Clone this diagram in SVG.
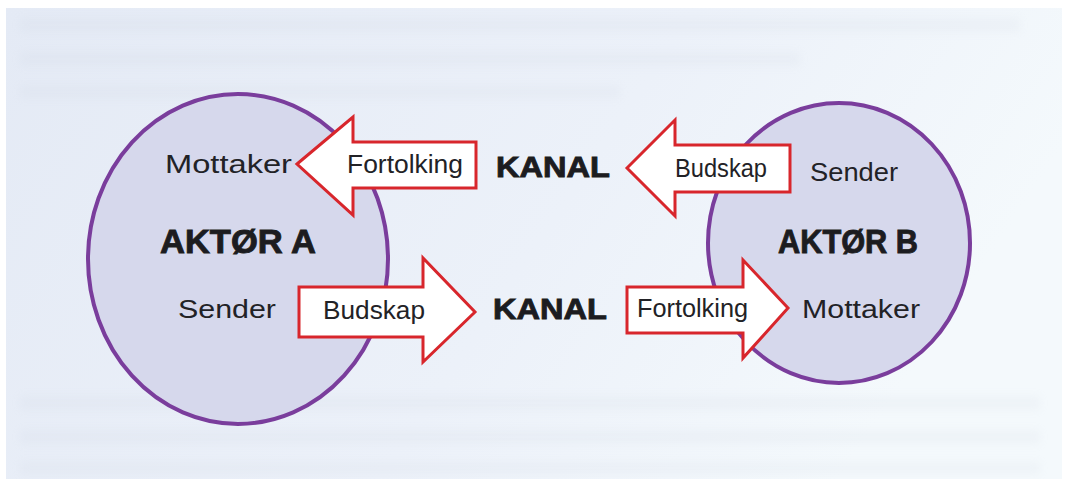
<svg xmlns="http://www.w3.org/2000/svg" width="1073" height="479" viewBox="0 0 1073 479">
  <defs>
    <linearGradient id="paper" x1="0" y1="0" x2="1" y2="0.3">
      <stop offset="0" stop-color="#e4eaf5"/>
      <stop offset="0.6" stop-color="#ecf1f9"/>
      <stop offset="1" stop-color="#f4f9fc"/>
    </linearGradient>
    <filter id="soft" x="-5%" y="-80%" width="110%" height="260%">
      <feGaussianBlur stdDeviation="4"/>
    </filter>
    <style>
      .actor { fill: #d6d8ec; stroke: #7a3d9c; stroke-width: 4; }
      .arrow { fill: #ffffff; stroke: #d8262c; stroke-width: 3; stroke-linejoin: miter; }
      .lbl { font-family: "Liberation Sans", Arial, sans-serif; font-size: 25px; fill: #222226; }
      .head { font-family: "Liberation Sans", Arial, sans-serif; font-weight: bold; fill: #1c1c20; stroke: #1c1c20; stroke-width: 0.9; }
      .bleed { fill: #c3cad8; opacity: 0.12; filter: url(#soft); }
    </style>
  </defs>

  <!-- page background with faint show-through from the reverse side -->
  <rect x="0" y="0" width="1073" height="479" fill="#ffffff"/>
  <rect x="6" y="8" width="1056" height="471" fill="url(#paper)"/>
  <g id="show-through">
    <rect class="bleed" x="20" y="18" width="1000" height="14"/>
    <rect class="bleed" x="20" y="52" width="780" height="14"/>
    <rect class="bleed" x="20" y="86" width="600" height="12"/>
    <rect class="bleed" x="20" y="396" width="1020" height="14"/>
    <rect class="bleed" x="20" y="430" width="1020" height="14"/>
    <rect class="bleed" x="20" y="462" width="1020" height="12"/>
  </g>

  <!-- actors -->
  <g id="actor-a">
    <ellipse class="actor" cx="238" cy="259" rx="150" ry="165"/>
    <text class="head" x="160" y="253" font-size="33" textLength="156" lengthAdjust="spacingAndGlyphs">AKTØR A</text>
    <text class="lbl" x="165" y="173" textLength="127" lengthAdjust="spacingAndGlyphs">Mottaker</text>
    <text class="lbl" x="178" y="318" textLength="98" lengthAdjust="spacingAndGlyphs">Sender</text>
  </g>

  <g id="actor-b">
    <ellipse class="actor" cx="839" cy="243" rx="131" ry="140"/>
    <text class="head" x="778" y="253" font-size="33" textLength="140" lengthAdjust="spacingAndGlyphs">AKTØR B</text>
    <text class="lbl" x="810" y="181" textLength="88" lengthAdjust="spacingAndGlyphs">Sender</text>
    <text class="lbl" x="802" y="318" textLength="118" lengthAdjust="spacingAndGlyphs">Mottaker</text>
  </g>

  <!-- channels -->
  <g id="kanal-top">
    <text class="head" x="496" y="177" font-size="30" textLength="114" lengthAdjust="spacingAndGlyphs">KANAL</text>
  </g>
  <g id="kanal-bottom">
    <text class="head" x="493" y="319" font-size="30" textLength="114" lengthAdjust="spacingAndGlyphs">KANAL</text>
  </g>

  <!-- connectors: block arrows with their labels -->
  <g id="connectors">
    <g id="a-fortolking">
      <polygon class="arrow" points="297,164 353,117 353,142 476,142 476,188 353,188 353,215"/>
      <text class="lbl" x="347" y="173" textLength="116" lengthAdjust="spacingAndGlyphs">Fortolking</text>
    </g>
    <g id="a-budskap">
      <polygon class="arrow" points="299,287 423,287 423,258 475,312 423,362 423,337 299,337"/>
      <text class="lbl" x="323" y="319" textLength="102" lengthAdjust="spacingAndGlyphs">Budskap</text>
    </g>
    <g id="b-budskap">
      <polygon class="arrow" points="627,168 675,120 675,145 790,145 790,192 675,192 675,216"/>
      <text class="lbl" x="675" y="177" textLength="92" lengthAdjust="spacingAndGlyphs">Budskap</text>
    </g>
    <g id="b-fortolking">
      <polygon class="arrow" points="627,287 743,287 743,260 788,308 743,358 743,333 627,333"/>
      <text class="lbl" x="637" y="317" textLength="111" lengthAdjust="spacingAndGlyphs">Fortolking</text>
    </g>
  </g>
</svg>
